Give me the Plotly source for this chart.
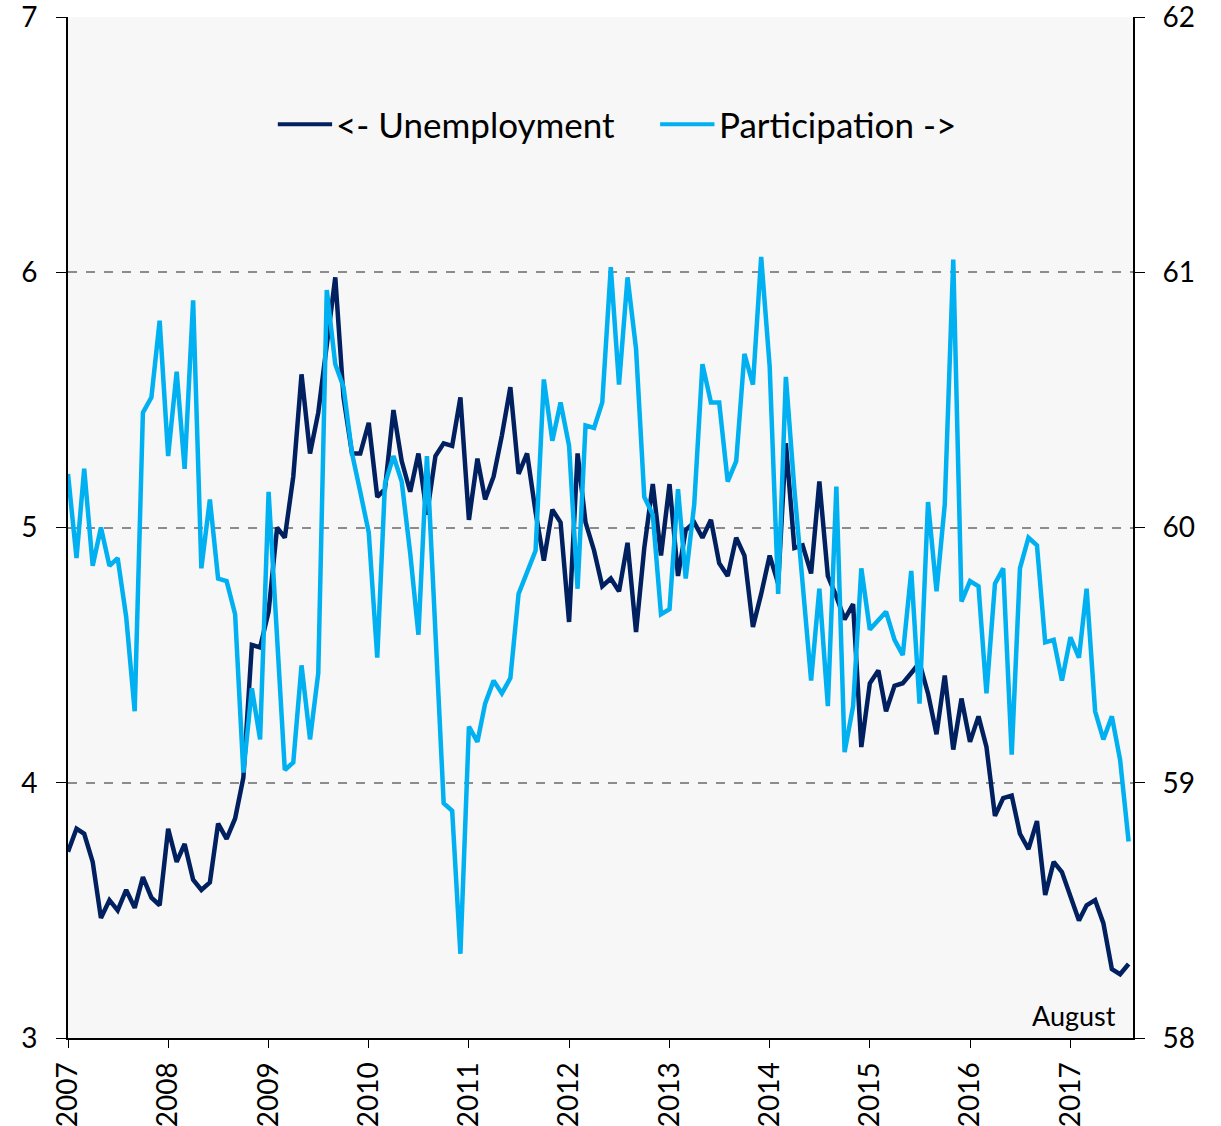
import pandas as pd
import plotly.graph_objects as go

# monthly data, Jan 2007 .. Aug 2017
start_month = "2007-01-01"

unemployment = [
    3.73, 3.82, 3.80, 3.69, 3.47, 3.54, 3.50, 3.58, 3.51, 3.63, 3.55, 3.52,
    3.82, 3.69, 3.76, 3.62, 3.58, 3.61, 3.84, 3.78, 3.86, 4.02, 4.54, 4.53,
    4.67, 5.00, 4.96, 5.20, 5.60, 5.29, 5.45, 5.71, 5.98, 5.51, 5.29, 5.29,
    5.41, 5.12, 5.15, 5.46, 5.26, 5.14, 5.29, 5.05, 5.28, 5.33, 5.32, 5.51,
    5.03, 5.27, 5.11, 5.20, 5.36, 5.55, 5.21, 5.29, 5.06, 4.87, 5.07, 5.02,
    4.63, 5.29, 5.02, 4.91, 4.77, 4.80, 4.75, 4.94, 4.59, 4.92, 5.17, 4.89,
    5.17, 4.81, 4.99, 5.02, 4.96, 5.03, 4.86, 4.81, 4.96, 4.89, 4.61, 4.74,
    4.89, 4.78, 5.33, 4.92, 4.93, 4.82, 5.18, 4.81, 4.73, 4.64, 4.70, 4.14,
    4.39, 4.44, 4.28, 4.38, 4.39, 4.43, 4.47, 4.35, 4.19, 4.42, 4.13, 4.33,
    4.16, 4.26, 4.14, 3.87, 3.94, 3.95, 3.80, 3.74, 3.85, 3.56, 3.69, 3.65,
    3.56, 3.46, 3.52, 3.54, 3.45, 3.27, 3.25, 3.29,
]

participation = [
    60.21, 59.88, 60.23, 59.85, 60.00, 59.85, 59.88, 59.65, 59.28, 60.45, 60.51, 60.81,
    60.28, 60.61, 60.23, 60.89, 59.84, 60.11, 59.80, 59.79, 59.66, 59.04, 59.37, 59.17,
    60.14, 59.57, 59.05, 59.08, 59.46, 59.17, 59.43, 60.93, 60.64, 60.55, 60.29, 60.14,
    59.98, 59.49, 60.17, 60.28, 60.18, 59.90, 59.58, 60.28, 59.61, 58.92, 58.89, 58.33,
    59.22, 59.16, 59.31, 59.40, 59.35, 59.41, 59.74, 59.82, 59.91, 60.58, 60.34, 60.49,
    60.32, 59.76, 60.40, 60.39, 60.49, 61.02, 60.56, 60.98, 60.70, 60.12, 60.05, 59.66,
    59.68, 60.15, 59.80, 60.09, 60.64, 60.49, 60.49, 60.18, 60.26, 60.68, 60.56, 61.06,
    60.63, 59.74, 60.59, 60.15, 59.78, 59.40, 59.76, 59.30, 60.16, 59.12, 59.30, 59.84,
    59.60, 59.64, 59.67, 59.56, 59.50, 59.83, 59.31, 60.10, 59.75, 60.09, 61.05, 59.71,
    59.79, 59.77, 59.35, 59.78, 59.84, 59.11, 59.84, 59.96, 59.93, 59.55, 59.56, 59.40,
    59.57, 59.49, 59.76, 59.28, 59.17, 59.26, 59.09, 58.77,
]

year_ticks = [f"{y}-01-01" for y in range(2007, 2018)]
year_labels = [str(y) for y in range(2007, 2018)]

dates = pd.date_range(start_month, periods=len(unemployment), freq="MS")

FONT = "Lato"
NAVY = "#002060"
CYAN = "#00B0F0"

fig = go.Figure()

fig.add_trace(
    go.Scatter(
        x=dates,
        y=participation,
        mode="lines",
        name="Participation ->",
        line=dict(color=CYAN, width=4.5),
        yaxis="y2",
    )
)
fig.add_trace(
    go.Scatter(
        x=dates,
        y=unemployment,
        mode="lines",
        name="<- Unemployment",
        line=dict(color=NAVY, width=4.5),
    )
)

fig.update_layout(
    width=1221,
    height=1126,
    margin=dict(l=68, r=88, t=17, b=88, autoexpand=False),
    paper_bgcolor="white",
    plot_bgcolor="#F7F7F7",
    font=dict(family=FONT, size=28, color="black"),
    showlegend=False,
    xaxis=dict(
        type="date",
        range=["2007-01-01", "2017-08-17"],
        tickmode="array",
        tickvals=year_ticks,
        ticktext=year_labels,
        tickangle=-90,
        ticks="outside",
        ticklen=8,
        tickcolor="black",
        showline=True,
        linecolor="black",
        linewidth=2,
        showgrid=False,
        zeroline=False,
        automargin=False,
        ticklabelstandoff=3,
        ticklabeloverflow="allow",
    ),
    yaxis=dict(
        range=[3, 7],
        dtick=1,
        ticks="outside",
        ticklen=10,
        tickcolor="black",
        showline=True,
        linecolor="black",
        linewidth=2,
        showgrid=True,
        gridcolor="#8C8C8C",
        griddash="dash",
        gridwidth=1.5,
        zeroline=False,
        automargin=False,
        ticklabelstandoff=13,
        ticklabeloverflow="allow",
    ),
    yaxis2=dict(
        range=[58, 62],
        dtick=1,
        overlaying="y",
        side="right",
        ticks="outside",
        ticklen=10,
        tickcolor="black",
        showline=True,
        linecolor="black",
        linewidth=2,
        showgrid=False,
        zeroline=False,
        automargin=False,
        ticklabelstandoff=12,
        ticklabeloverflow="allow",
    ),
)

# legend drawn by hand so the key lines are as long as in the original
legend_y = 0.895
for x0, x1, color, label in [
    (0.197, 0.248, NAVY, "<- Unemployment"),
    (0.556, 0.607, CYAN, "Participation ->"),
]:
    fig.add_shape(
        type="line",
        xref="paper",
        yref="paper",
        x0=x0,
        x1=x1,
        y0=legend_y,
        y1=legend_y,
        line=dict(color=color, width=4),
    )
    fig.add_annotation(
        text=label,
        xref="paper",
        yref="paper",
        x=x1 + 0.002,
        y=legend_y,
        xanchor="left",
        yanchor="middle",
        showarrow=False,
        font=dict(size=35),
    )

fig.add_annotation(
    text="August",
    xref="paper",
    yref="paper",
    x=0.986,
    y=0.022,
    xanchor="right",
    yanchor="middle",
    showarrow=False,
    font=dict(size=27),
)

fig.write_html(
    "out.html",
    config={"displayModeBar": False},
    post_script="document.body.style.margin = '0';",
)
